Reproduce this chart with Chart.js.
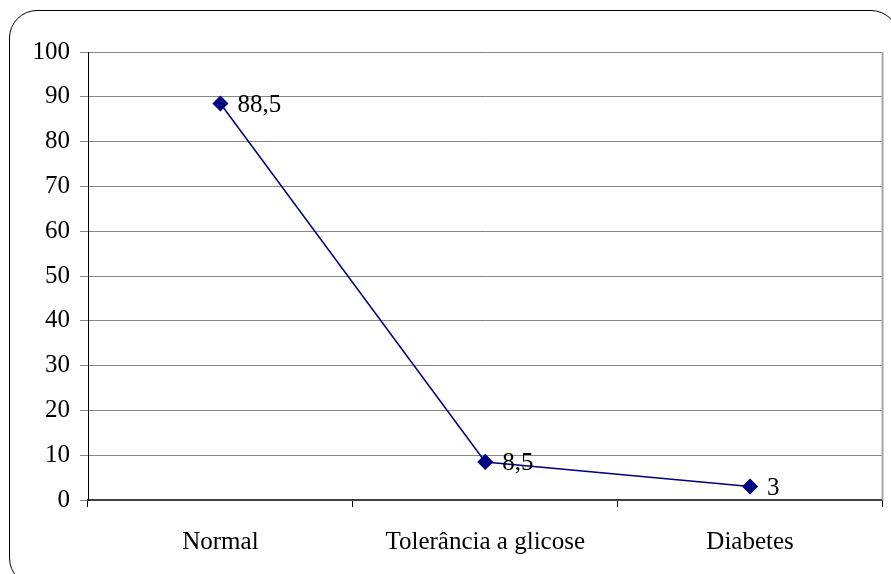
<!DOCTYPE html>
<html>
<head>
<meta charset="utf-8">
<script src="https://cdn.jsdelivr.net/npm/chart.js@4"></script>
<style>
  html, body { margin: 0; padding: 0; background: #fff; }
  #wrap { position: relative; width: 891px; height: 574px; overflow: hidden; }
  #frame {
    position: absolute; left: 9px; top: 10px; width: 890px; height: 576px;
    border: 1.6px solid #000; border-radius: 28px; box-sizing: border-box;
  }
  #chart { position: absolute; left: 0; top: 0; }
</style>
</head>
<body>
<div id="wrap">
  <div id="frame"></div>
  <canvas id="chart" width="891" height="574"></canvas>
</div>
<script>
// categorias e percentuais
var categories = ["Normal", "Tolerância a glicose", "Diabetes"];
var percent = [88.5, 8.5, 3];
var yTicks = [0, 10, 20, 30, 40, 50, 60, 70, 80, 90, 100];

var serif = "'Liberation Serif', 'Times New Roman', serif";

// escreve o valor ao lado de cada ponto
var valueLabels = {
    id: "valueLabels",
    afterDatasetsDraw: function (chart) {
        var ctx = chart.ctx;
        var meta = chart.getDatasetMeta(0);
        ctx.save();
        ctx.font = "25px " + serif;
        ctx.fillStyle = "#000";
        ctx.textAlign = "left";
        ctx.textBaseline = "middle";
        meta.data.forEach(function (pt, i) {
            var txt = String(percent[i]).replace(".", ",");
            ctx.fillText(txt, pt.x + 17, pt.y + 2);
        });
        ctx.restore();
    }
};

// borda direita da area do grafico
var rightEdge = {
    id: "rightEdge",
    beforeDatasetsDraw: function (chart) {
        var a = chart.chartArea;
        var ctx = chart.ctx;
        ctx.save();
        ctx.strokeStyle = "#a6a6a6";
        ctx.lineWidth = 2;
        ctx.beginPath();
        ctx.moveTo(a.right, a.top);
        ctx.lineTo(a.right, a.bottom);
        ctx.stroke();
        ctx.restore();
    }
};

var ctx = document.getElementById("chart");
var chart = new Chart(ctx, {
    type: "line",
    data: {
        labels: categories,
        datasets: [{
            data: percent,
            borderColor: "#000080",
            backgroundColor: "#000080",
            borderWidth: 1.5,
            pointStyle: "rectRot",
            pointRadius: 7,
            pointHoverRadius: 7,
            tension: 0
        }]
    },
    options: {
        responsive: false,
        animation: false,
        events: [],
        layout: { padding: { left: 0, right: 6, top: 52, bottom: 0 } },
        plugins: {
            legend: { display: false },
            tooltip: { enabled: false }
        },
        scales: {
            x: {
                offset: true,
                grid: {
                    offset: true,
                    drawOnChartArea: false,
                    drawTicks: true,
                    tickLength: 7,
                    tickColor: "#000",
                    tickWidth: 1
                },
                border: { color: "#404040", width: 2 },
                ticks: {
                    color: "#000",
                    font: { family: serif, size: 25 },
                    padding: 20,
                    maxRotation: 0
                },
                afterFit: function (s) { s.height = 74; }
            },
            y: {
                min: 0,
                max: 100,
                afterBuildTicks: function (s) {
                    s.ticks = yTicks.map(function (v) { return { value: v }; });
                },
                grid: {
                    color: "#868686",
                    lineWidth: 1,
                    tickLength: 8
                },
                border: { color: "#000", width: 1 },
                ticks: {
                    color: "#000",
                    font: { family: serif, size: 25 },
                    padding: 10
                },
                afterFit: function (s) { s.width = 88; }
            }
        }
    },
    plugins: [rightEdge, valueLabels]
});
</script>
</body>
</html>
